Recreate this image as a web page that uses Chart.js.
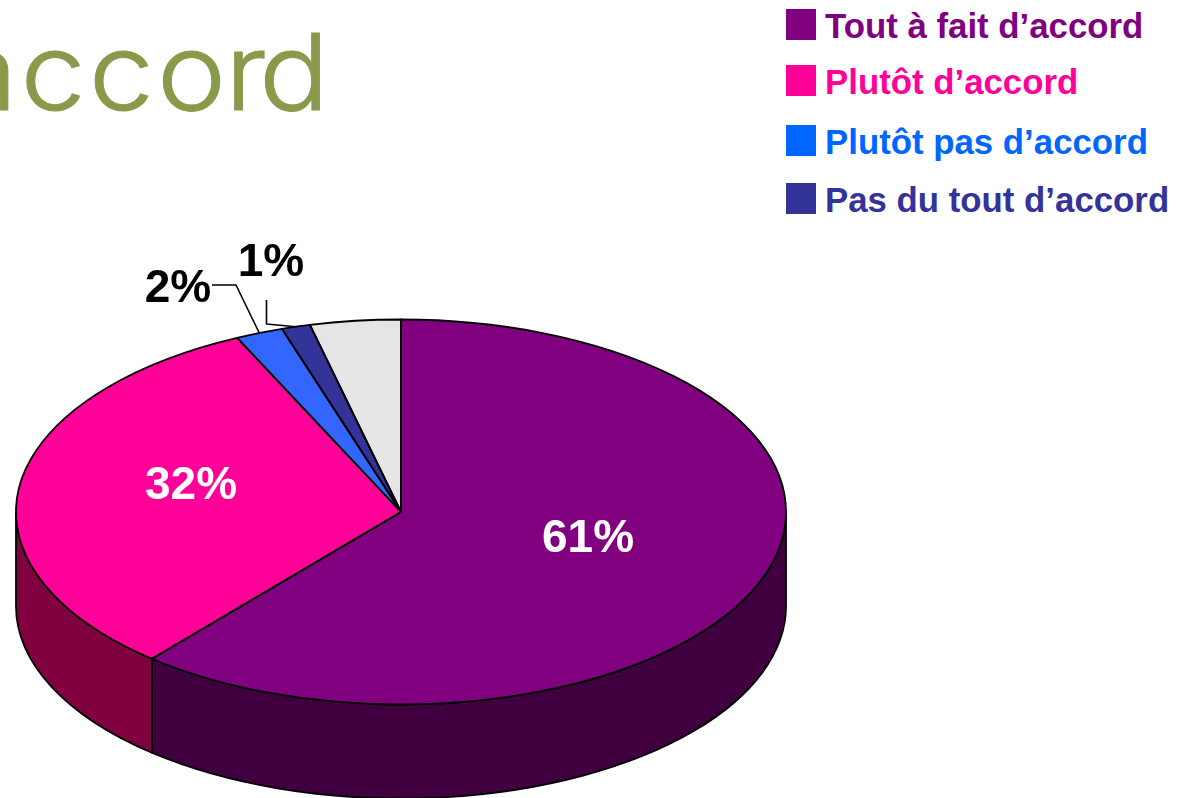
<!DOCTYPE html>
<html lang="fr">
<head>
<meta charset="utf-8">
<script src="https://cdn.jsdelivr.net/npm/chart.js@4"></script>
<style>
  html, body { margin: 0; padding: 0; background: #fff; overflow: hidden; }
  #page { position: relative; width: 1183px; height: 798px; overflow: hidden; }
  #myChart { position: absolute; left: 0; top: 0; }
  #title {
    position: absolute; right: 851px; top: 12px; margin: 0;
    font: 300 106px/120px Inter, sans-serif; color: #8a9a4b; white-space: nowrap; letter-spacing: 2.7px;
    -webkit-text-stroke: 1px #8a9a4b;
    transform: scaleX(1.1); transform-origin: right center;
  }
  .legend-item {
    position: absolute; left: 786px; height: 31px; white-space: nowrap;
    font: bold 34.8px "Liberation Sans", Arial, sans-serif; line-height: 31px;
  }
  .legend-item i { position: absolute; left: 0; top: 0; width: 30px; height: 31px; }
  .legend-item span { position: absolute; left: 39px; top: 1px; }
</style>
</head>
<body>
<div id="page">
  <h1 id="title">acc<span style="letter-spacing:-0.9px">o</span><span style="letter-spacing:-7.3px">r</span>d</h1>
  <div id="legend"></div>
  <canvas id="myChart" width="1183" height="798"></canvas>
</div>
<script>
const categories = ['Tout à fait d’accord', 'Plutôt d’accord', 'Plutôt pas d’accord', 'Pas du tout d’accord']
const values = [61.2, 31.8, 2, 1.2, 3.8]
const valueLabels = ['61%', '32%', '2%', '1%']
const sliceColors = ['#800080', '#ff0099', '#3366ff', '#333399', '#e5e5e5']
const wallColors = ['#400040', '#800040', '#1a3380', '#1a1a4d', '#737373']
const legendColors = ['#800080', '#ff0099', '#0066ff', '#333399']
const legendTops = [9, 65, 125, 183]

const squash = 0.5   // flatten the round pie into the tilted ellipse
const depth = 94     // height of the side wall
const edge = 1.8

// label centres, and the elbow of the leader line for the two small slices
const labelSpots = [
  { x: 588, y: 539, color: '#fff' },
  { x: 191, y: 486, color: '#fff' },
  { x: 178, y: 289, color: '#000', leader: [[212, 285], [236, 285]] },
  { x: 271, y: 263, color: '#000', leader: [[266.5, 300], [266.5, 324]] }
]

const legend = document.getElementById('legend')
categories.forEach((name, i) => {
  const item = document.createElement('div')
  item.className = 'legend-item'
  item.style.top = legendTops[i] + 'px'
  item.style.color = legendColors[i]
  item.innerHTML = '<i style="background:' + legendColors[i] + '"></i><span>' + name + '</span>'
  legend.appendChild(item)
})

const tiltedPie = {
  id: 'tiltedPie',
  beforeDatasetsDraw(chart) {
    const ctx = chart.ctx
    const arcs = chart.getDatasetMeta(0).data
    ctx.save()
    ctx.lineWidth = edge
    ctx.strokeStyle = '#000'
    ctx.lineJoin = 'round'
    // side wall: only what lies on the front half of the ellipse
    arcs.forEach((arc, i) => {
      const a = Math.max(arc.startAngle, 0)
      const b = Math.min(arc.endAngle, Math.PI)
      if (b <= a) return
      const r = arc.outerRadius
      ctx.beginPath()
      ctx.ellipse(arc.x, arc.y, r, r * squash, 0, a, b)
      ctx.ellipse(arc.x, arc.y + depth, r, r * squash, 0, b, a, true)
      ctx.closePath()
      ctx.fillStyle = wallColors[i]
      ctx.fill()
      ctx.stroke()
    })
    ctx.restore()
    // top face: chart.js fills the arcs inside this transform
    const first = arcs[0]
    ctx.save()
    ctx.translate(first.x, first.y)
    ctx.scale(1, squash)
    ctx.translate(-first.x, -first.y)
  },
  afterDatasetsDraw(chart) {
    const ctx = chart.ctx
    ctx.restore()
    const arcs = chart.getDatasetMeta(0).data
    ctx.save()
    ctx.lineWidth = edge
    ctx.strokeStyle = '#000'
    ctx.lineJoin = 'round'
    arcs.forEach(arc => {
      const r = arc.outerRadius
      ctx.beginPath()
      ctx.moveTo(arc.x, arc.y)
      ctx.ellipse(arc.x, arc.y, r, r * squash, 0, arc.startAngle, arc.endAngle)
      ctx.closePath()
      ctx.stroke()
    })
    // labels and leaders
    ctx.textAlign = 'center'
    ctx.textBaseline = 'middle'
    ctx.font = 'bold 46px "Liberation Sans", Arial, sans-serif'
    valueLabels.forEach((text, i) => {
      const spot = labelSpots[i]
      if (spot.leader) {
        const arc = arcs[i]
        const mid = (arc.startAngle + arc.endAngle) / 2
        ctx.lineWidth = 1.6
        ctx.beginPath()
        ctx.moveTo(spot.leader[0][0], spot.leader[0][1])
        ctx.lineTo(spot.leader[1][0], spot.leader[1][1])
        ctx.lineTo(arc.x + arc.outerRadius * Math.cos(mid), arc.y + arc.outerRadius * squash * Math.sin(mid))
        ctx.stroke()
      }
      ctx.fillStyle = spot.color
      ctx.fillText(text, spot.x, spot.y)
    })
    ctx.restore()
  }
}

new Chart(document.getElementById('myChart'), {
  type: 'pie',
  plugins: [tiltedPie],
  data: {
    labels: categories,
    datasets: [{
      data: values,
      backgroundColor: sliceColors,
      borderWidth: 0,
      clip: false
    }]
  },
  options: {
    responsive: false,
    animation: false,
    radius: 385,
    layout: { padding: { top: 226, right: 381, bottom: 0, left: 0 } },
    plugins: { legend: { display: false }, tooltip: { enabled: false } }
  }
})
</script>
</body>
</html>
